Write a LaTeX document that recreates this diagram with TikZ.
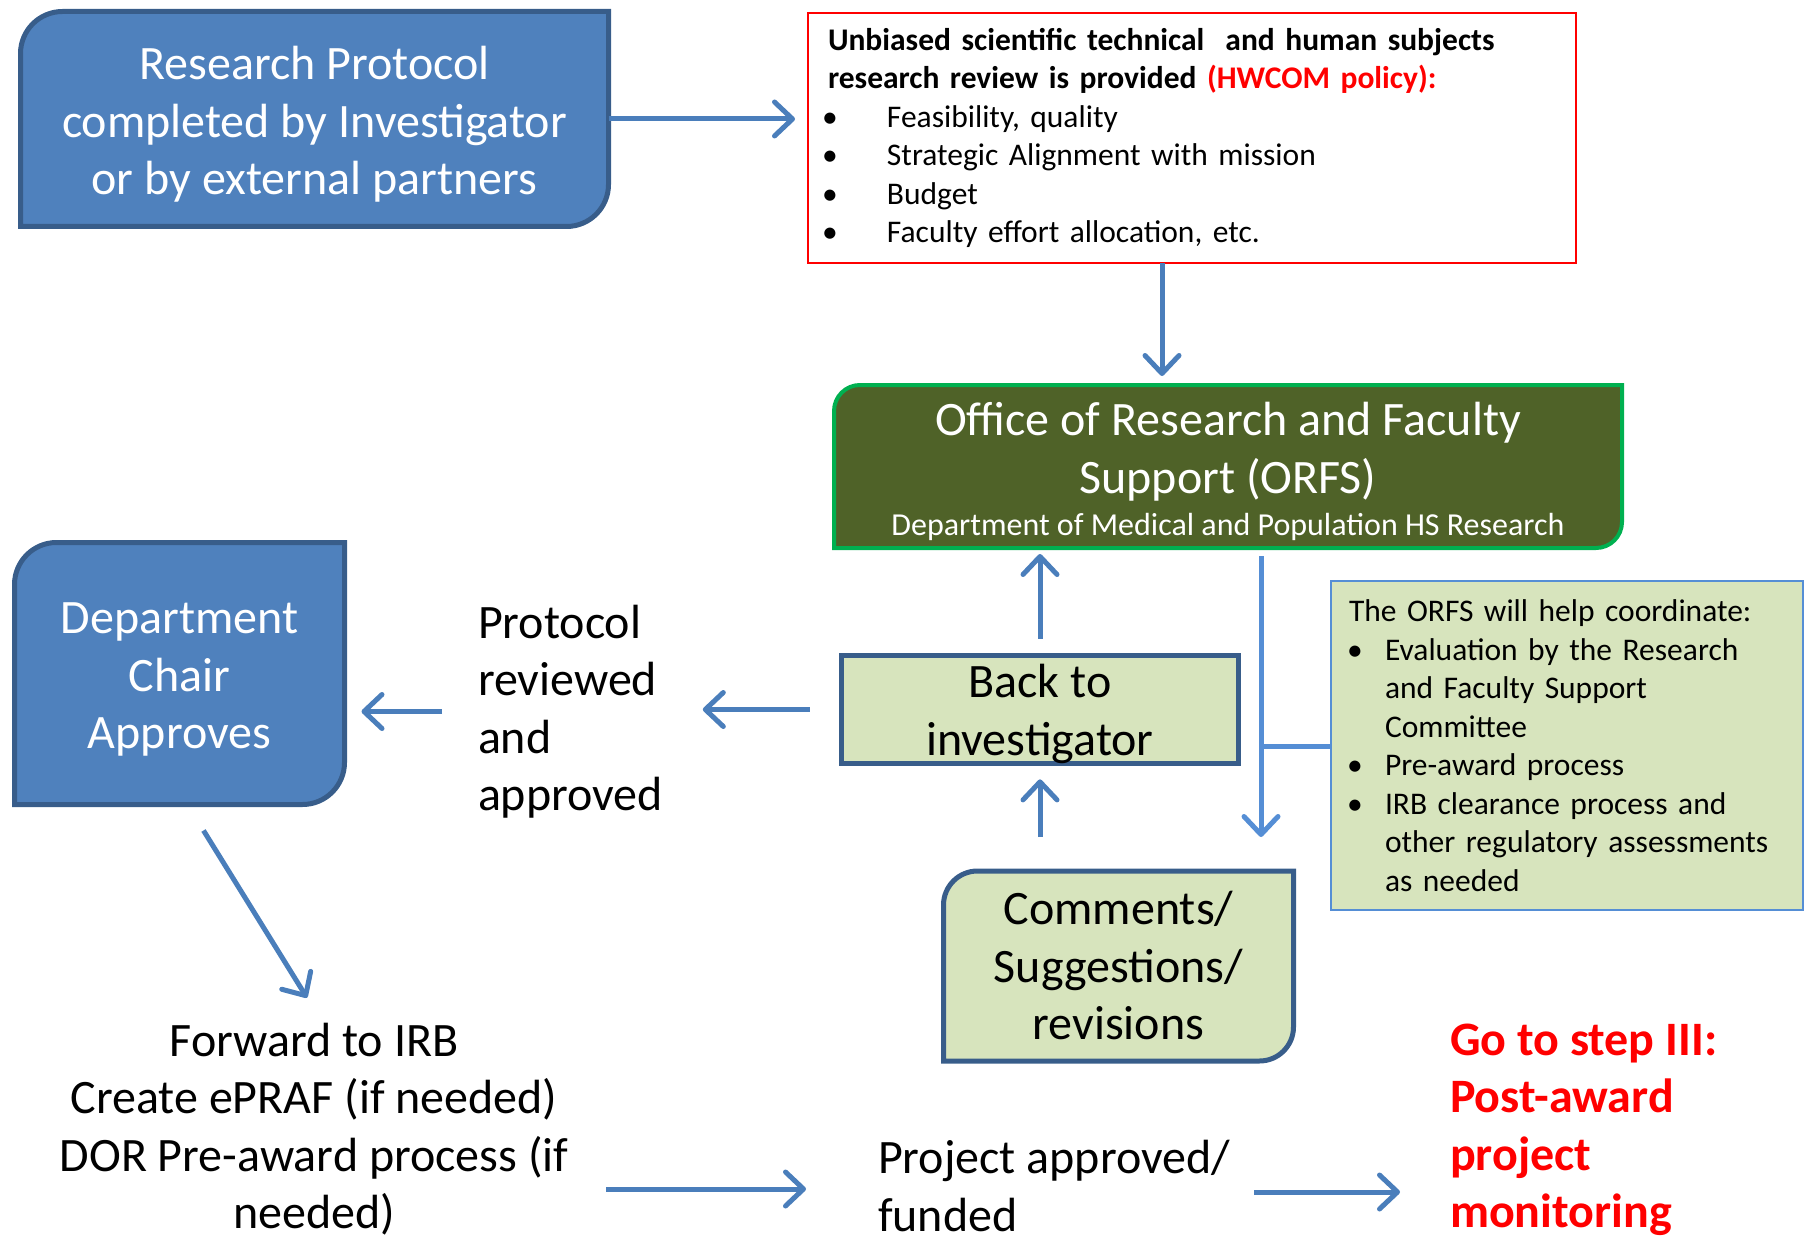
\documentclass[tikz,border=0pt]{standalone}
\usepackage{fontspec}
\setmainfont{Carlito}
\usetikzlibrary{arrows.meta,backgrounds}
\definecolor{boxblue}{HTML}{4F81BD}
\definecolor{boxedge}{HTML}{385D8A}
\definecolor{flowblue}{HTML}{4A7EBB}
\definecolor{flowlight}{HTML}{558ED5}
\definecolor{orfsolive}{HTML}{4F6228}
\definecolor{orfsgreen}{HTML}{00B050}
\definecolor{palegreen}{HTML}{D7E4BD}
\definecolor{policyred}{HTML}{FF0000}
% box with round top-left and bottom-right corners
\newcommand{\leafpath}[3]{%
  \path[#3] ([xshift=#2]#1.north west) -- (#1.north east) -- ([yshift=#2]#1.south east)
    arc[start angle=0,end angle=-90,radius=#2] -- (#1.south west) -- ([yshift=-#2]#1.north west)
    arc[start angle=180,end angle=90,radius=#2] -- cycle;}
\newcommand{\bul}{\hspace*{-6pt}\makebox[65pt][l]{\textbullet}}
\newcommand{\hbul}{\hspace*{-2pt}\makebox[38pt][l]{\textbullet}}
\newcommand{\hgap}{\hspace*{36pt}}
\newcommand{\drop}[1]{\rule{0pt}{#1}}

\begin{document}
\begin{tikzpicture}[x=1pt,y=1pt,
big/.style={font=\fontsize{48}{57.5}\selectfont},
small/.style={font=\fontsize{31.5}{38.5}\selectfont},
slot/.style={rectangle,inner sep=0pt,outer sep=0pt,align=center},
flow/.style={draw=flowblue,line width=5pt,-{Straight Barb[length=18pt,width=34pt,round]}},
link/.style={draw=flowlight,line width=5pt},
]
\useasboundingbox (0,0) rectangle (1805,-1241);

% Schritt II: Begutachtung
\node[slot,big,text=white,minimum width=588,minimum height=215] (protocol) at (314.5,-119) {\drop{44pt}Research Protocol\\completed by Investigator\\or by external partners};
\node[slot,small,draw=policyred,line width=2pt,minimum width=768,minimum height=250,text width=728,align=left] (policy) at (1192,-138) {\textbf{Unbiased scientific technical\ \ and human subjects}\\\textbf{research review is provided \textcolor{policyred}{(HWCOM policy):}}\\\bul Feasibility, quality\\\bul Strategic Alignment with mission\\\bul Budget\\\bul Faculty effort allocation, etc.};
\node[slot,text=white,minimum width=788,minimum height=163,font=\fontsize{48}{57.5}\selectfont] (orfs) at (1228,-466.5) {\drop{44pt}Office of Research and Faculty\\Support (ORFS)\\[-15pt]{\fontsize{32}{38.5}\selectfont Department of Medical and Population HS Research}};
\node[slot,big,text=white,minimum width=330,minimum height=262] (chair) at (179.5,-673.5) {\drop{43pt}Department\\Chair\\Approves};
\node[slot,big,align=left,anchor=west] (reviewed) at (478,-711.5) {Protocol\\reviewed\\and\\approved};
\node[slot,big,draw=boxedge,fill=palegreen,line width=5pt,minimum width=397,minimum height=102] (back) at (1040,-709.5) {\drop{42pt}Back to\\investigator};
\node[slot,small,draw=flowlight,fill=palegreen,line width=2pt,minimum width=472,minimum height=329,text width=436,align=left] (help) at (1567,-745.5) {The ORFS will help coordinate:\\\hbul Evaluation by the Research\\\hgap and Faculty Support\\\hgap Committee\\\hbul Pre-award process\\\hbul IRB clearance process and\\\hgap other regulatory assessments\\\hgap as needed};
\node[slot,big,minimum width=350,minimum height=190] (comments) at (1118.5,-966) {Comments/\\Suggestions/\\revisions};
\node[slot,big] (irb) at (314,-1129) {Forward to IRB\\Create ePRAF (if needed)\\DOR Pre-award process (if\\needed)};
\node[slot,big,align=left,anchor=west] (project) at (878,-1186) {Project approved/\\funded};
\node[slot,align=left,anchor=west,text=policyred,font=\fontsize{48}{57.5}\selectfont\bfseries] (goto) at (1450,-1130) {Go to step III:\\Post-award\\project\\monitoring};
\coordinate (tap) at (1261,-746);

\begin{pgfonlayer}{background}
\leafpath{protocol}{42pt}{fill=boxblue,draw=boxedge,line width=5pt}
\leafpath{chair}{42pt}{fill=boxblue,draw=boxedge,line width=5pt}
\leafpath{orfs}{26pt}{fill=orfsolive,draw=orfsgreen,line width=4pt}
\leafpath{comments}{34pt}{fill=palegreen,draw=boxedge,line width=5pt}
\end{pgfonlayer}

\draw[flow,shorten >=13pt] (protocol.east) -- (protocol.east -| policy.west);
\draw[flow,shorten >=9pt] ([xshift=-30pt]policy.south) -- ([xshift=-30pt]policy.south |- orfs.north);
\draw[flow,shorten <=17pt,shorten >=6pt] (back.north) -- (back.north |- orfs.south);
\draw[flow,shorten <=34pt,shorten >=16pt] (back.south |- comments.north) -- (back.south);
\draw[flow,shorten <=32pt,shorten >=40pt] (back.west) -- (back.west -| reviewed.east);
\draw[flow,shorten <=36pt,shorten >=17pt] (reviewed.west) -- (reviewed.west -| chair.east);
\draw[flow] ([xshift=24pt,yshift=-26pt]chair.south) -- ([xshift=-7pt,yshift=25pt]irb.north);
\draw[flow,shorten <=38pt,shorten >=72pt] ([yshift=-3pt]project.west -| irb.east) -- ([yshift=-3pt]project.west);
\draw[flow,shorten <=24pt,shorten >=50pt] ([yshift=-6pt]project.east) -- ([yshift=-6pt]project.east -| goto.west);
\draw[flow,draw=flowlight,shorten <=8pt,shorten >=34pt] (orfs.south -| tap) -- (comments.north -| tap);
\draw[link] (tap) -- (tap -| help.west);
\end{tikzpicture}
\end{document}
